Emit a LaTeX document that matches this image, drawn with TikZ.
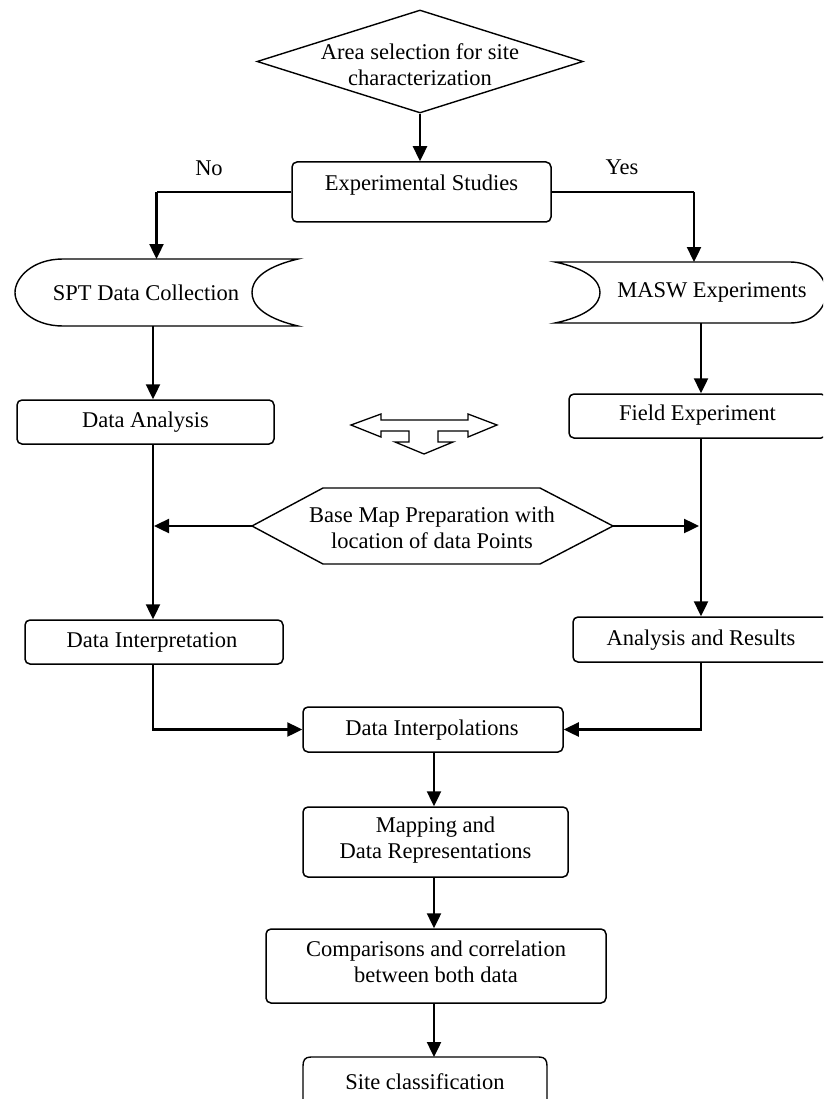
\documentclass[tikz,border=0pt]{standalone}
\usepackage{fontspec}
\setmainfont{Liberation Serif}
\usetikzlibrary{arrows.meta,shapes.geometric,calc}
\begin{document}
\begin{tikzpicture}[x=1pt,y=-1pt,
  txt/.style={font=\fontsize{22.5}{26}\selectfont, align=center, inner sep=0},
  rbox/.style={draw, rounded corners=5pt, line width=1.5pt, inner sep=0},
  ghost/.style={inner sep=0, outer sep=0},
  shp/.style={line width=1.4pt},
  conn/.style={line width=2.4pt, -{Triangle[length=15pt,width=14pt]}},
  plain/.style={line width=2.4pt}]
\useasboundingbox (0,0) rectangle (823,1099);
\clip (0,0) rectangle (823,1099);
\coordinate (Lx) at (153,0);
\coordinate (Rx) at (701,0);
\coordinate (Rin) at (694,0);
\coordinate (Cx) at (434,0);

% top diamond
\node[diamond, draw, line width=1.4pt, minimum width=326pt, minimum height=103pt, inner sep=0] (area) at (420,61.5) {};
\node[txt] (areatxt) at (420,65) {Area selection for site\\characterization};

% experimental studies
\node[rbox, minimum width=259pt, minimum height=60pt] (exp) at (421.5,192) {};
\node[txt] (exptxt) at (421.5,185) {Experimental Studies};
\node[txt] (no) at (209,168) {No};
\node[txt] (yes) at (622,167) {Yes};

% SPT data collection
\node[ghost, minimum width=283pt, minimum height=67pt] (spt) at (156.5,292.5) {};
\draw[shp] (63,259) -- (298,259) .. controls (260,268) and (252,282) .. (252,292.5)
  .. controls (252,303) and (260,317) .. (298,326) -- (63,326)
  .. controls (32,326) and (15,307) .. (15,292.5) .. controls (15,278) and (32,259) .. (63,259) -- cycle;
\node[txt] (spttxt) at (146,293) {SPT Data Collection};

% MASW experiments
\node[ghost, minimum width=271pt, minimum height=61pt] (masw) at (690.5,292.5) {};
\draw[shp] (555,262) -- (790,262) .. controls (812,262) and (826,276) .. (826,292.5)
  .. controls (826,309) and (812,323) .. (790,323) -- (555,323)
  .. controls (588,316) and (600,304) .. (600,292.5) .. controls (600,281) and (588,269) .. (555,262) -- cycle;
\node[txt] (masswtxt) at (712,292) {MASW Experiments};

% data analysis / field experiment
\node[rbox, minimum width=257pt, minimum height=44pt] (da) at (145.5,422) {};
\node[txt] at (145.5,422) {Data Analysis};
\node[rbox, minimum width=257pt, minimum height=44pt] (fe) at (697.5,416) {};
\node[txt] at (697.5,415) {Field Experiment};

% three-way arrow symbol
\draw[shp, line width=1.3pt] (351,425) -- (381,414) -- (381,420) -- (468,420) -- (468,414) -- (497,425)
  -- (468,437) -- (468,431) -- (438,431) -- (438,442) -- (453,442) -- (424,454) -- (395,442)
  -- (409,442) -- (409,431) -- (381,431) -- (381,437) -- cycle;

% hexagon
\node[ghost, minimum width=361pt, minimum height=76pt] (hex) at (432.5,526) {};
\draw[shp] (252,526) -- (323,488) -- (540,488) -- (613,526) -- (540,564) -- (323,564) -- cycle;
\node[txt] (hextxt) at (432,527.5) {Base Map Preparation with\\location of data Points};

% data interpretation / analysis and results
\node[rbox, minimum width=258pt, minimum height=44pt] (di) at (154,642) {};
\node[txt] at (152,642) {Data Interpretation};
\node[rbox, minimum width=257pt, minimum height=45pt] (ar) at (701.5,639.5) {};
\node[txt] at (701,640) {Analysis and Results};

% data interpolations
\node[rbox, minimum width=260pt, minimum height=45pt] (dint) at (433,729.5) {};
\node[txt] at (432,730) {Data Interpolations};

% mapping
\node[rbox, minimum width=265pt, minimum height=70pt] (map) at (435.5,842) {};
\node[txt] at (435.5,840.5) {Mapping and\\Data Representations};

% comparisons
\node[rbox, minimum width=340pt, minimum height=74pt] (comp) at (436,966) {};
\node[txt] at (436,962) {Comparisons and correlation\\between both data};

% site classification
\node[ghost, minimum width=244pt, minimum height=56pt] (site) at (425,1085) {};
\draw[shp] (303,1115) -- (303,1066) .. controls (303,1060) and (305,1057) .. (311,1057)
  -- (539,1057) .. controls (545,1057) and (547,1060) .. (547,1066) -- (547,1115);
\node[txt] at (425,1082) {Site classification};

% connectors
\draw[conn] (area.south) -- (area.south |- exp.north);
\draw[plain] (exp.west) -- (exp.west -| spt.north);
\draw[conn] (exp.west -| spt.north) -- (spt.north);
\draw[plain] (exp.east) -- (exp.east -| Rin);
\draw[conn] (exp.east -| Rin) -- (masw.north -| Rin);
\draw[conn] (spt.south -| Lx) -- (da.north -| Lx);
\draw[conn] (masw.south -| Rx) -- (fe.north -| Rx);
\draw[conn] (da.south -| Lx) -- (di.north -| Lx);
\draw[conn] (fe.south -| Rx) -- (ar.north -| Rx);
\draw[conn, shorten >=1pt] (hex.west) -- (hex.west -| Lx);
\draw[conn, shorten >=2pt] (hex.east) -- (hex.east -| Rx);
\draw[conn] (di.south -| Lx) |- (dint.west);
\draw[conn] (ar.south -| Rx) |- (dint.east);
\draw[conn] (dint.south -| Cx) -- (map.north -| Cx);
\draw[conn] (map.south -| Cx) -- (comp.north -| Cx);
\draw[conn] (comp.south -| Cx) -- (site.north -| Cx);
\end{tikzpicture}
\end{document}
